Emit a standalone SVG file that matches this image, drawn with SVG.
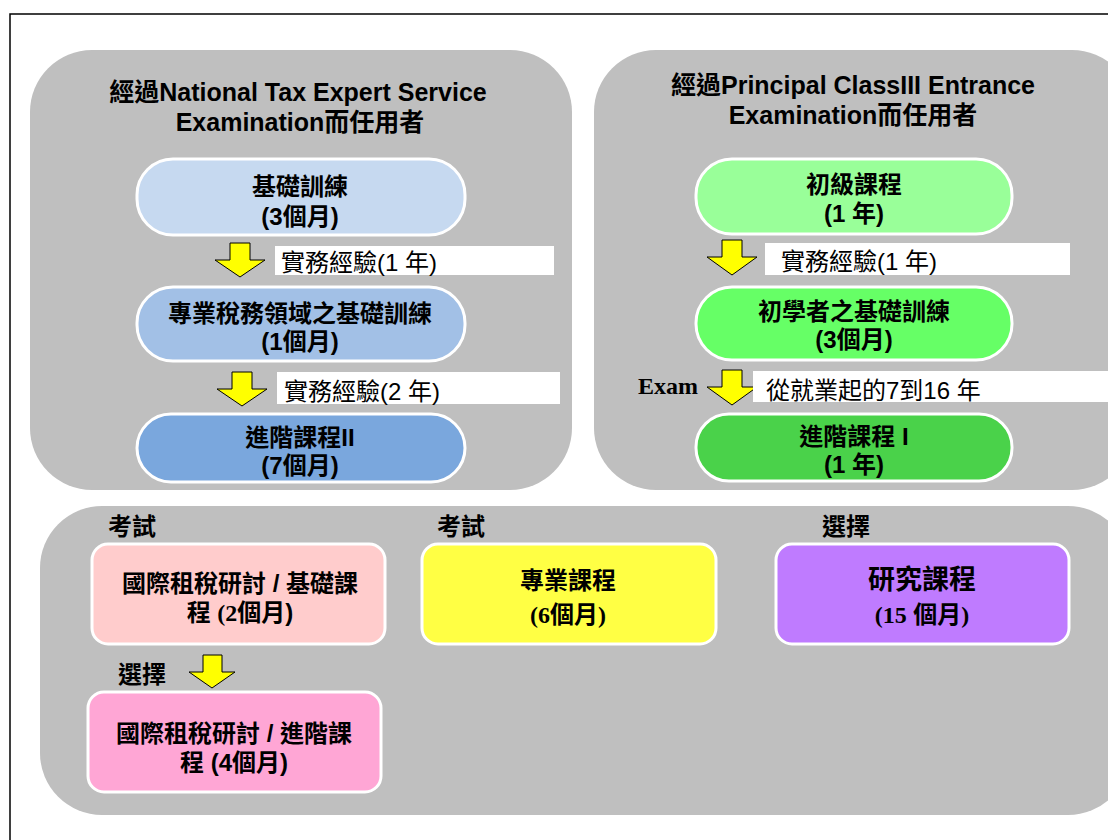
<svg xmlns="http://www.w3.org/2000/svg" width="1108" height="840" viewBox="0 0 1108 840">
<defs>
<style>
.panel{fill:#bfbfbf;}
.box{stroke:#ffffff;stroke-width:3;}
.t{font-family:"Liberation Sans","Noto Sans CJK TC",sans-serif;font-weight:bold;fill:#000;text-anchor:middle;}
.h{font-size:25px;}
.b{font-size:24px;}
.lbl{fill:#ffffff;}
.lt{font-family:"Liberation Sans","Noto Sans CJK TC",sans-serif;font-size:24px;fill:#000;}
.tag{font-family:"Liberation Sans","Noto Sans CJK TC",sans-serif;font-weight:bold;font-size:24px;fill:#000;}
.arr{fill:#ffff00;stroke:#000;stroke-width:1;}
.serif{font-family:"Liberation Serif","Noto Sans CJK TC",serif;}
</style>
</defs>
<rect x="0" y="0" width="1108" height="840" fill="#ffffff"/>
<rect x="10" y="14" width="1120" height="900" fill="none" stroke="#000" stroke-width="1.5"/>

<g id="panel-left">
<rect class="panel" x="30" y="50" width="542" height="440" rx="62"/>
<text class="t h" x="298" y="101">經過National Tax Expert Service</text>
<text class="t h" x="300" y="131">Examination而任用者</text>
</g>
<g id="panel-right">
<rect class="panel" x="594" y="50" width="540" height="440" rx="62"/>
<text class="t h" x="853" y="94">經過Principal ClassIII Entrance</text>
<text class="t h" x="853" y="124">Examination而任用者</text>
</g>
<g id="panel-bottom">
<rect class="panel" x="40" y="506" width="1090" height="309" rx="62"/>
</g>

<g id="n-basic">
<rect class="box" x="137" y="159" width="328" height="76" rx="36" fill="#c6d9f0"/>
<text class="t b" x="300" y="195">基礎訓練</text>
<text class="t b" x="300" y="225">(3個月)</text>
</g>
<g id="n-prof-basic">
<rect class="box" x="137" y="287" width="328" height="74" rx="36" fill="#a2c0e6"/>
<text class="t b" x="300" y="322">專業稅務領域之基礎訓練</text>
<text class="t b" x="300" y="350">(1個月)</text>
</g>
<g id="n-adv2">
<rect class="box" x="137" y="414" width="328" height="68" rx="34" fill="#7aa7dd"/>
<text class="t b" x="300" y="446">進階課程II</text>
<text class="t b" x="300" y="474">(7個月)</text>
</g>

<g id="n-junior">
<rect class="box" x="696" y="159" width="316" height="75" rx="36" fill="#99ff99"/>
<text class="t b" x="854" y="193">初級課程</text>
<text class="t b" x="854" y="222">(1 年)</text>
</g>
<g id="n-beginner">
<rect class="box" x="696" y="287" width="316" height="73" rx="36" fill="#66ff66"/>
<text class="t b" x="854" y="320">初學者之基礎訓練</text>
<text class="t b" x="854" y="348">(3個月)</text>
</g>
<g id="n-adv1">
<rect class="box" x="696" y="414" width="316" height="67" rx="33" fill="#4ad24a"/>
<text class="t b" x="854" y="445">進階課程 I</text>
<text class="t b" x="854" y="473">(1 年)</text>
</g>

<g id="n-intl-basic">
<text class="tag" x="108" y="535">考試</text>
<rect class="box" x="92" y="544" width="293" height="100" rx="16" fill="#ffcccc"/>
<text class="t b" x="240" y="592">國際租稅研討 / 基礎課</text>
<text class="t b" x="240" y="621">程 <tspan class="serif">(2</tspan>個月)</text>
</g>
<g id="n-intl-adv">
<rect class="box" x="88" y="692" width="293" height="100" rx="16" fill="#ffa6d5"/>
<text class="t b" x="234" y="742">國際租稅研討 / 進階課</text>
<text class="t b" x="234" y="771">程 (4個月)</text>
</g>
<g id="n-pro">
<text class="tag" x="437" y="535">考試</text>
<rect class="box" x="422" y="544" width="294" height="100" rx="16" fill="#ffff44"/>
<text class="t b" x="568" y="589">專業課程</text>
<text class="t b" x="568" y="623"><tspan class="serif">(6</tspan>個月<tspan class="serif">)</tspan></text>
</g>
<g id="n-research">
<text class="tag" x="822" y="535">選擇</text>
<rect class="box" x="776" y="544" width="293" height="100" rx="16" fill="#bf7bff"/>
<text class="t" style="font-size:27px" x="922" y="589">研究課程</text>
<text class="t b" x="922" y="623"><tspan class="serif">(15</tspan> 個月<tspan class="serif">)</tspan></text>
</g>

<g id="connectors">
<path class="arr" d="M230,243 L250,243 L250,260 L265,260 L240,277 L215,260 L230,260 Z"/>
<rect class="lbl" x="275" y="246" width="279" height="29"/>
<text class="lt" x="281" y="271">實務經驗(1 年)</text>

<path class="arr" d="M232,372 L252,372 L252,389 L267,389 L242,406 L217,389 L232,389 Z"/>
<rect class="lbl" x="277" y="372" width="283" height="32"/>
<text class="lt" x="284" y="400">實務經驗(2 年)</text>

<path class="arr" d="M722,240 L742,240 L742,257 L757,257 L732,275 L707,257 L722,257 Z"/>
<rect class="lbl" x="765" y="243" width="305" height="32"/>
<text class="lt" x="781" y="270">實務經驗(1 年)</text>

<text class="serif" x="638" y="394" style="font-size:24px;font-weight:bold;fill:#000">Exam</text>
<path class="arr" d="M722,370 L742,370 L742,387 L757,387 L732,405 L707,387 L722,387 Z"/>
<rect class="lbl" x="753" y="371" width="360" height="31"/>
<text class="lt" x="766" y="399">從就業起的7到16 年</text>

<text class="tag" x="118" y="683">選擇</text>
<path class="arr" d="M203,655 L222,655 L222,672 L235,672 L212,688 L189,672 L203,672 Z"/>
</g>
</svg>
